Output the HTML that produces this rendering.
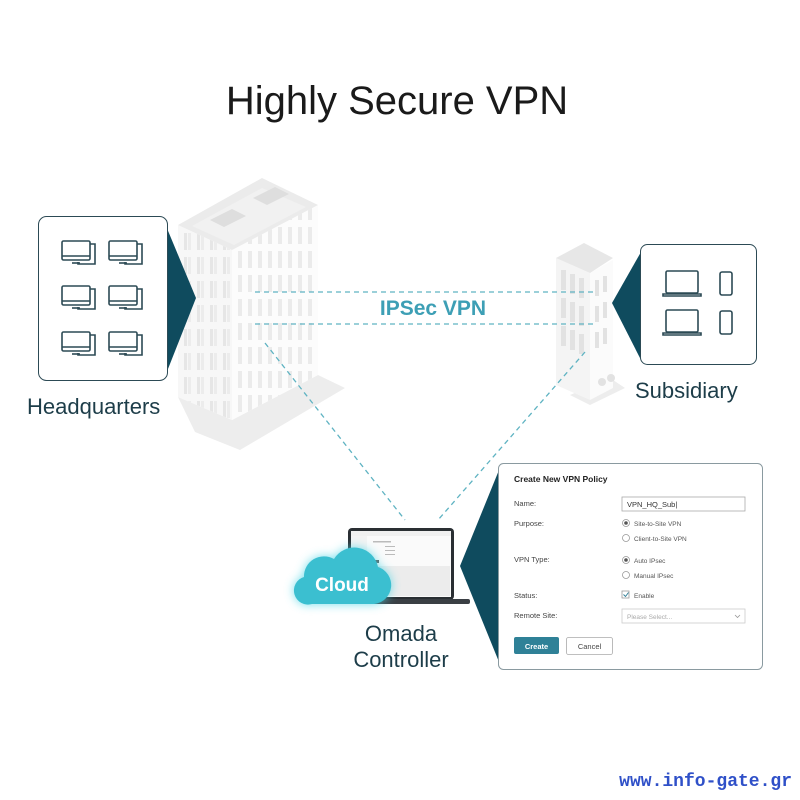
<!DOCTYPE html>
<html><head><meta charset="utf-8"><style>
html,body{margin:0;padding:0;background:#fff;}
svg{display:block;}
text{font-family:"Liberation Sans",sans-serif;}
</style></head><body>
<svg width="800" height="800" viewBox="0 0 800 800" xmlns="http://www.w3.org/2000/svg">
<defs>
<pattern id="winL" x="182" y="230" width="13" height="24" patternUnits="userSpaceOnUse">
<rect x="2" y="3" width="3" height="17" fill="#e6e6e6"/><rect x="6" y="3" width="3" height="17" fill="#ececec"/></pattern>
<pattern id="winR" x="236" y="200" width="10" height="24" patternUnits="userSpaceOnUse">
<rect x="2" y="3" width="4" height="17" fill="#ebebeb"/></pattern>
<filter id="glow" x="-50%" y="-50%" width="200%" height="200%"><feGaussianBlur stdDeviation="5"/></filter>
</defs>
<rect width="800" height="800" fill="#fff"/>
<text x="397" y="114" font-size="40" text-anchor="middle" fill="#1a1a1a">Highly Secure VPN</text>

<!-- HQ building -->
<polygon points="178,397 232,420 318,375 345,388 240,450 195,432" fill="#ededed"/>
<polygon points="178,225 232,250 232,420 178,397" fill="#f7f7f7"/>
<polygon points="178,225 232,250 232,420 178,397" fill="url(#winL)"/>
<polygon points="232,250 318,205 318,375 232,420" fill="#fcfcfc"/>
<polygon points="232,250 318,205 318,375 232,420" fill="url(#winR)"/>
<polygon points="178,225 262,178 318,205 232,250" fill="#ebebeb"/>
<polygon points="192,226 262,188 306,207 234,245" fill="#f1f1f1"/>
<polygon points="210,220 232,209 246,216 224,227" fill="#dedede"/>
<polygon points="253,198 275,187 289,194 267,205" fill="#dedede"/>

<!-- Subsidiary building -->
<polygon points="570,395 610,378 625,388 590,405" fill="#ededed"/>
<polygon points="556,258 590,273 590,400 556,385" fill="#f4f4f4"/>
<polygon points="590,273 613,260 613,388 590,400" fill="#fbfbfb"/>
<polygon points="556,258 584,243 613,258 590,273" fill="#e7e7e7"/>
<g fill="#e2e2e2">
<rect x="561" y="270" width="5" height="20"/><rect x="570" y="274" width="5" height="20"/><rect x="579" y="278" width="5" height="20"/>
<rect x="561" y="298" width="5" height="20"/><rect x="570" y="302" width="5" height="20"/><rect x="579" y="306" width="5" height="20"/>
<rect x="561" y="326" width="5" height="20"/><rect x="570" y="330" width="5" height="20"/><rect x="579" y="334" width="5" height="20"/>
<rect x="595" y="280" width="4" height="16"/><rect x="603" y="276" width="4" height="16"/>
<rect x="595" y="306" width="4" height="16"/><rect x="603" y="302" width="4" height="16"/>
<rect x="595" y="332" width="4" height="16"/><rect x="603" y="328" width="4" height="16"/>
<circle cx="602" cy="382" r="4"/><circle cx="611" cy="378" r="4"/></g>

<!-- dashed lines -->
<g stroke="#5fb3c2" stroke-width="1.3" stroke-dasharray="5,4" fill="none">
<line x1="255" y1="292" x2="596" y2="292"/>
<line x1="255" y1="324" x2="596" y2="324"/>
<line x1="265" y1="343" x2="405" y2="520"/>
<line x1="585" y1="352" x2="438" y2="520"/>
</g>
<rect x="370" y="294" width="126" height="26" fill="#fff" opacity="0.9"/>
<text x="433" y="315" font-size="21" font-weight="bold" text-anchor="middle" fill="#3d9fb5">IPSec VPN</text>

<!-- HQ box -->
<polygon points="166,226 196,298 166,374" fill="#0f4b5e"/>
<rect x="38.5" y="216.5" width="129" height="164" rx="8" fill="#fff" stroke="#2c4a55" stroke-width="1"/>
<g fill="none" stroke="#2c4a55" stroke-width="1.6">
<g id="pc"><rect x="62" y="241" width="28" height="19" rx="1.5"/><line x1="62" y1="256" x2="90" y2="256"/><line x1="72" y1="263" x2="80" y2="263"/><path d="M90 244 h5 v20 h-17 v-2"/></g>
<use href="#pc" x="47" y="0"/>
<use href="#pc" x="0" y="45"/><use href="#pc" x="47" y="45"/>
<use href="#pc" x="0" y="91"/><use href="#pc" x="47" y="91"/>
</g>
<text x="27" y="414" font-size="22" fill="#1d3d49">Headquarters</text>

<!-- Subsidiary box -->
<polygon points="641,252 612,303 641,360" fill="#0f4b5e"/>
<rect x="640.5" y="244.5" width="116" height="120" rx="7" fill="#fff" stroke="#2c4a55" stroke-width="1"/>
<g fill="none" stroke="#2c4a55" stroke-width="1.6">
<rect x="666" y="271" width="32" height="22" rx="1.5"/><path d="M663 294 h38 v2 h-38 z"/>
<rect x="720" y="272" width="12" height="23" rx="2"/>
<rect x="666" y="310" width="32" height="22" rx="1.5"/><path d="M663 333 h38 v2 h-38 z"/>
<rect x="720" y="311" width="12" height="23" rx="2"/>
</g>
<text x="635" y="398" font-size="22" fill="#1d3d49">Subsidiary</text>

<!-- laptop -->
<rect x="348" y="528" width="106" height="72" rx="4" fill="#2a2f33"/>
<rect x="351" y="531" width="100" height="66" fill="#fafafa"/>
<rect x="351" y="531" width="100" height="5" fill="#f0f0f0"/>
<rect x="351" y="536" width="16" height="61" fill="#f3f3f3"/>
<rect x="370" y="566" width="80" height="30" fill="#ececec"/>
<rect x="372" y="560" width="7" height="3" fill="#555"/>
<g fill="#bbb"><rect x="373" y="541" width="18" height="1.5"/><rect x="385" y="546" width="10" height="1"/><rect x="385" y="550" width="10" height="1"/><rect x="385" y="554" width="10" height="1"/></g>
<rect x="338" y="599" width="132" height="5" rx="2" fill="#3a3f44"/>

<!-- cloud -->
<g>
<path d="M312 604 h62 a19 19 0 0 0 4 -37 a24 24 0 0 0 -44 -8 a20 20 0 0 0 -30 18 a14 14 0 0 0 8 27 z" fill="#4fd6e6" filter="url(#glow)" opacity="0.8"/>
<path d="M312 604 h62 a19 19 0 0 0 4 -37 a24 24 0 0 0 -44 -8 a20 20 0 0 0 -30 18 a14 14 0 0 0 8 27 z" fill="#3bbfd0"/>
</g>
<text x="342" y="591" font-size="19" font-weight="bold" text-anchor="middle" fill="#fff">Cloud</text>
<text x="401" y="641" font-size="22" text-anchor="middle" fill="#1d3d49">Omada</text>
<text x="401" y="667" font-size="22" text-anchor="middle" fill="#1d3d49">Controller</text>

<!-- dialog -->
<polygon points="499,470 460,566 499,662" fill="#0f4b5e"/>
<rect x="498.5" y="463.5" width="264" height="206" rx="5" fill="#fff" stroke="#8a9aa0" stroke-width="1"/>
<g font-size="7.5" fill="#444">
<text x="514" y="482" font-weight="bold" font-size="8.5" fill="#222">Create New VPN Policy</text>
<text x="514" y="506">Name:</text>
<text x="514" y="526">Purpose:</text>
<text x="514" y="562">VPN Type:</text>
<text x="514" y="598">Status:</text>
<text x="514" y="618">Remote Site:</text>
</g>
<rect x="622" y="497" width="123" height="14" fill="#fff" stroke="#aaa" stroke-width="0.8"/>
<text x="627" y="507" font-size="7.5" fill="#333">VPN_HQ_Sub|</text>
<g fill="none" stroke="#999" stroke-width="0.8">
<circle cx="626" cy="523" r="3.5"/><circle cx="626" cy="538" r="3.5"/>
<circle cx="626" cy="560" r="3.5"/><circle cx="626" cy="575" r="3.5"/>
<rect x="622" y="591" width="7" height="7"/>
<rect x="622" y="609" width="123" height="14" fill="#fff" stroke="#ccc"/>
</g>
<circle cx="626" cy="523" r="1.8" fill="#555"/><circle cx="626" cy="560" r="1.8" fill="#555"/>
<path d="M623.5 594.5 l2 2 l3 -4" fill="none" stroke="#2a7b93" stroke-width="0.9"/>
<g font-size="6.5" fill="#555">
<text x="634" y="526">Site-to-Site VPN</text>
<text x="634" y="541">Client-to-Site VPN</text>
<text x="634" y="563">Auto IPsec</text>
<text x="634" y="578">Manual IPsec</text>
<text x="634" y="598">Enable</text>
<text x="627" y="619" fill="#aaa">Please Select...</text>
</g>
<path d="M735 615 l2.5 2.5 l2.5 -2.5" fill="none" stroke="#999" stroke-width="0.8"/>
<rect x="514" y="637" width="45" height="17" rx="2" fill="#2f8197"/>
<text x="536.5" y="649" font-size="7.5" font-weight="bold" text-anchor="middle" fill="#fff">Create</text>
<rect x="566.5" y="637.5" width="46" height="17" rx="2" fill="#fff" stroke="#aaa" stroke-width="0.8"/>
<text x="589.5" y="649" font-size="7.5" text-anchor="middle" fill="#444">Cancel</text>

<!-- watermark -->
<text x="792" y="786" font-size="18" font-weight="bold" text-anchor="end" fill="#2f50c8" style="font-family:'Liberation Mono',monospace">www.info-gate.gr</text>
</svg>
</body></html>
